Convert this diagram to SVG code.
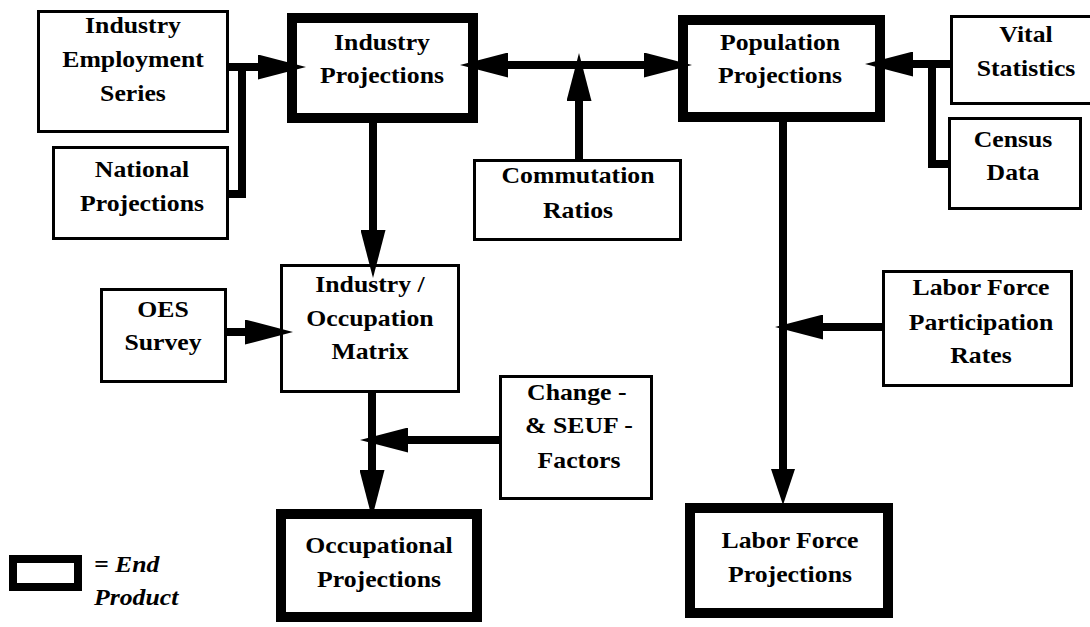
<svg xmlns="http://www.w3.org/2000/svg" width="1090" height="627" viewBox="0 0 1090 627">
<style>
  .bx { fill: #fff; stroke: #000; stroke-width: 3; }
  .tk { fill: #fff; stroke: #000; stroke-width: 10; }
  .t { font-family: 'Liberation Serif', 'DejaVu Serif', serif; font-weight: 700; font-size: 23px; fill: #000; text-anchor: middle; }
  .it { font-family: 'Liberation Serif', 'DejaVu Serif', serif; font-weight: 700; font-style: italic; font-size: 23px; fill: #000; }
  .ln { fill: none; stroke: #000; stroke-width: 8; stroke-linejoin: miter; }
  .ar { marker-end: url(#ah); }
</style>
<defs>
  <marker id="ah" markerUnits="userSpaceOnUse" viewBox="0 0 48 25" refX="0" refY="12.5" markerWidth="48" markerHeight="25" orient="auto-start-reverse">
    <path d="M0,0 L48,12.5 L0,25 Z" fill="#000"/>
  </marker>
  <marker id="ahs" markerUnits="userSpaceOnUse" viewBox="0 0 36 24" refX="0" refY="12" markerWidth="36" markerHeight="24" orient="auto">
    <path d="M0,0 L36,12 L0,24 Z" fill="#000"/>
  </marker>
</defs>
<rect width="1090" height="627" fill="#fff"/>

<g id="industry-employment-series">
  <rect class="bx" x="38.5" y="11.5" width="189" height="120"/>
  <text class="t" transform="translate(133 0) scale(1.12 1)"><tspan x="0" y="33">Industry</tspan><tspan x="0" y="67">Employment</tspan><tspan x="0" y="101">Series</tspan></text>
</g>
<g id="national-projections">
  <rect class="bx" x="53.5" y="147.5" width="174" height="91"/>
  <text class="t" transform="translate(142 0) scale(1.12 1)"><tspan x="0" y="177">National</tspan><tspan x="0" y="211">Projections</tspan></text>
</g>
<g id="industry-projections">
  <rect class="tk" x="292" y="18" width="181" height="100"/>
  <text class="t" transform="translate(382 0) scale(1.12 1)"><tspan x="0" y="50">Industry</tspan><tspan x="0" y="83">Projections</tspan></text>
</g>
<g id="population-projections">
  <rect class="tk" x="683" y="20" width="197" height="97"/>
  <text class="t" transform="translate(780 0) scale(1.12 1)"><tspan x="0" y="50">Population</tspan><tspan x="0" y="83">Projections</tspan></text>
</g>
<g id="vital-statistics">
  <rect class="bx" x="951.5" y="16.5" width="145" height="87"/>
  <text class="t" transform="translate(1026 0) scale(1.12 1)"><tspan x="0" y="42">Vital</tspan><tspan x="0" y="76">Statistics</tspan></text>
</g>
<g id="census-data">
  <rect class="bx" x="949.5" y="118.5" width="131" height="90"/>
  <text class="t" transform="translate(1013 0) scale(1.12 1)"><tspan x="0" y="147">Census</tspan><tspan x="0" y="180">Data</tspan></text>
</g>
<g id="commutation-ratios">
  <rect class="bx" x="474.5" y="160.5" width="206" height="79"/>
  <text class="t" transform="translate(578 0) scale(1.12 1)"><tspan x="0" y="183">Commutation</tspan><tspan x="0" y="218">Ratios</tspan></text>
</g>
<g id="oes-survey">
  <rect class="bx" x="101.5" y="289.5" width="124" height="92"/>
  <text class="t" transform="translate(163 0) scale(1.12 1)"><tspan x="0" y="317">OES</tspan><tspan x="0" y="350">Survey</tspan></text>
</g>
<g id="industry-occupation-matrix">
  <rect class="bx" x="281.5" y="265.5" width="177" height="126"/>
  <text class="t" transform="translate(370 0) scale(1.12 1)"><tspan x="0" y="292">Industry /</tspan><tspan x="0" y="326">Occupation</tspan><tspan x="0" y="359">Matrix</tspan></text>
</g>
<g id="change-seuf-factors">
  <rect class="bx" x="500.5" y="376.5" width="151" height="122"/>
  <text class="t" transform="translate(579 0) scale(1.12 1)"><tspan x="-2" y="400">Change -</tspan><tspan x="0" y="433">&amp; SEUF -</tspan><tspan x="0" y="468">Factors</tspan></text>
</g>
<g id="labor-force-participation-rates">
  <rect class="bx" x="883.5" y="271.5" width="188" height="114"/>
  <text class="t" transform="translate(981 0) scale(1.12 1)"><tspan x="0" y="295">Labor Force</tspan><tspan x="0" y="330">Participation</tspan><tspan x="0" y="363">Rates</tspan></text>
</g>
<g id="occupational-projections">
  <rect class="tk" x="281" y="514" width="196" height="103"/>
  <text class="t" transform="translate(379 0) scale(1.12 1)"><tspan x="0" y="553">Occupational</tspan><tspan x="0" y="587">Projections</tspan></text>
</g>
<g id="labor-force-projections">
  <rect class="tk" x="690" y="508" width="198" height="105"/>
  <text class="t" transform="translate(790 0) scale(1.12 1)"><tspan x="0" y="548">Labor Force</tspan><tspan x="0" y="582">Projections</tspan></text>
</g>
<g id="legend">
  <rect x="13" y="559" width="65" height="28" fill="#fff" stroke="#000" stroke-width="8"/>
  <text class="it" transform="translate(94 0) scale(1.12 1)"><tspan x="0" y="572">= End</tspan><tspan x="0" y="605">Product</tspan></text>
</g>

<g id="connectors">
  <line class="ln ar" x1="229" y1="67" x2="258" y2="67"/>
  <polyline class="ln" points="229,194 242,194 242,67"/>
  <line class="ln" x1="508" y1="65" x2="644" y2="65" marker-start="url(#ah)" marker-end="url(#ah)"/>
  <line class="ln ar" x1="579" y1="159" x2="579" y2="101"/>
  <line class="ln ar" x1="950" y1="64" x2="913" y2="64"/>
  <polyline class="ln" points="948,164 932,164 932,64"/>
  <line class="ln ar" x1="373" y1="123" x2="373" y2="230"/>
  <line class="ln ar" x1="227" y1="332" x2="245" y2="332"/>
  <line class="ln ar" x1="372" y1="393" x2="372" y2="470"/>
  <line class="ln ar" x1="499" y1="440" x2="408" y2="440"/>
  <line class="ln" x1="783" y1="122" x2="783" y2="469" marker-end="url(#ahs)"/>
  <line class="ln ar" x1="882" y1="327" x2="823" y2="327"/>
</g>
</svg>
